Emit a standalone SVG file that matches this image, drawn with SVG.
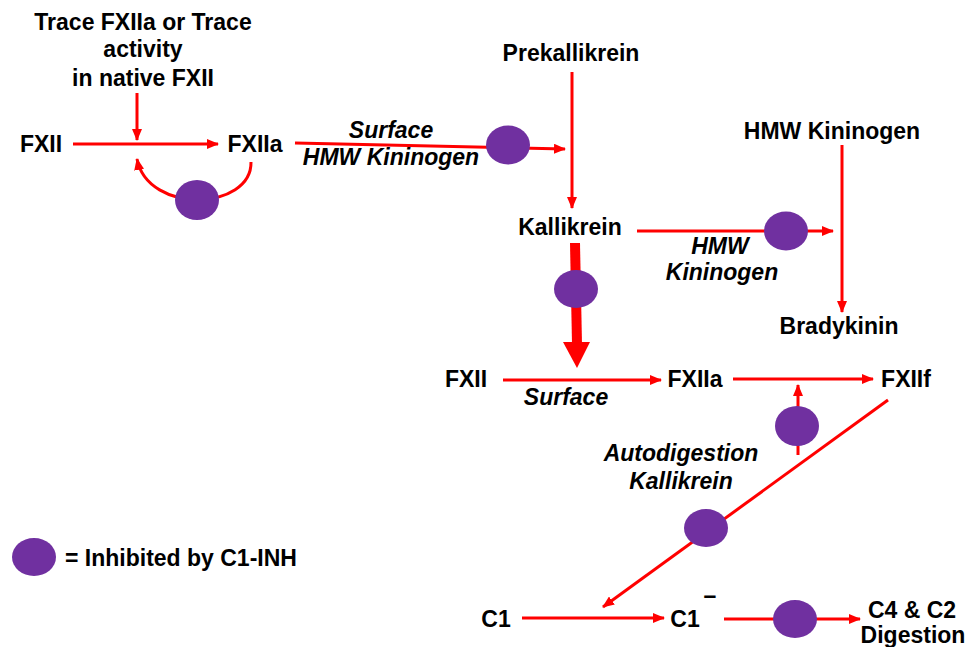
<svg xmlns="http://www.w3.org/2000/svg" width="978" height="647" viewBox="0 0 978 647">
<style>
.t{font-family:"Liberation Sans",Arial,sans-serif;font-weight:bold;font-size:23px;fill:#000;text-anchor:middle}
.i{font-style:italic}
.s{text-anchor:start}
.ln{stroke:#FF0000;stroke-width:3;fill:none;marker-end:url(#ah)}
.inh{fill:#7030A0}
</style>
<defs>
<marker id="ah" markerUnits="userSpaceOnUse" viewBox="0 0 12 10" refX="11" refY="5" markerWidth="12" markerHeight="10" orient="auto">
<path d="M0,0 L12,5 L0,10 z" fill="#FF0000"/>
</marker>
</defs>
<rect width="978" height="647" fill="#fff"/>
<g id="connectors">
<line class="ln" x1="137" y1="93" x2="137" y2="140"/>
<line class="ln" x1="73" y1="144" x2="218" y2="144"/>
<path class="ln" d="M251,162 C252,210 148,215 137,159"/>
<line class="ln" x1="295" y1="143" x2="565" y2="149"/>
<line class="ln" x1="572" y1="72" x2="572" y2="208"/>
<line class="ln" x1="637" y1="231" x2="833" y2="231"/>
<line class="ln" x1="842" y1="145" x2="842" y2="312"/>
<line x1="575" y1="243" x2="577" y2="344" stroke="#FF0000" stroke-width="10"/>
<polygon points="563,342 590,342 577,368" fill="#FF0000"/>
<line class="ln" x1="503" y1="380" x2="661" y2="380"/>
<line class="ln" x1="733" y1="379" x2="873" y2="379"/>
<line class="ln" x1="798" y1="455" x2="798" y2="385"/>
<line class="ln" x1="888" y1="400" x2="603" y2="607"/>
<line class="ln" x1="522" y1="618" x2="664" y2="618"/>
<line class="ln" x1="724" y1="619" x2="860" y2="619"/>
<ellipse class="inh" cx="197" cy="200" rx="22" ry="20"/>
<ellipse class="inh" cx="508" cy="145" rx="22" ry="19.5"/>
<ellipse class="inh" cx="786" cy="231" rx="22" ry="19.5"/>
<ellipse class="inh" cx="576" cy="289" rx="22" ry="19"/>
<ellipse class="inh" cx="797" cy="426" rx="22" ry="20"/>
<ellipse class="inh" cx="706" cy="528" rx="22" ry="19"/>
<ellipse class="inh" cx="795" cy="619" rx="22" ry="19"/>
</g>
<g id="trace"><text class="t" x="143" y="30">Trace FXIIa or Trace</text><text class="t" x="143" y="57">activity</text><text class="t" x="143" y="86">in native FXII</text></g>
<g id="fxii1"><text class="t" x="41" y="152">FXII</text></g>
<g id="fxiia1"><text class="t" x="255" y="152">FXIIa</text></g>
<g id="lbl1"><text class="t i" x="391" y="138">Surface</text><text class="t i" x="391" y="165">HMW Kininogen</text></g>
<g id="prekallikrein"><text class="t" x="571" y="61">Prekallikrein</text></g>
<g id="kallikrein"><text class="t" x="570" y="235">Kallikrein</text></g>
<g id="lbl2"><text class="t i" x="720" y="254">HMW</text><text class="t i" x="722" y="280">Kininogen</text></g>
<g id="hmwk"><text class="t" x="832" y="139">HMW Kininogen</text></g>
<g id="bradykinin"><text class="t" x="839" y="334">Bradykinin</text></g>
<g id="fxii2"><text class="t" x="466" y="387">FXII</text></g>
<g id="fxiia2"><text class="t" x="695" y="387">FXIIa</text></g>
<g id="fxiif"><text class="t" x="906" y="387">FXIIf</text></g>
<g id="lbl3"><text class="t i" x="566" y="405">Surface</text></g>
<g id="lbl4"><text class="t i" x="681" y="461">Autodigestion</text><text class="t i" x="681" y="489">Kallikrein</text></g>
<g id="legend"><ellipse class="inh" cx="34" cy="557" rx="22" ry="19"/><text class="t s" x="65" y="566">= Inhibited by C1-INH</text></g>
<g id="c1"><text class="t" x="496" y="627">C1</text></g>
<g id="c1bar"><text class="t" x="685" y="627">C1</text><text class="t" x="710" y="603">–</text></g>
<g id="c4c2"><text class="t" x="912" y="618">C4 &amp; C2</text><text class="t" x="913" y="643">Digestion</text></g>
</svg>
